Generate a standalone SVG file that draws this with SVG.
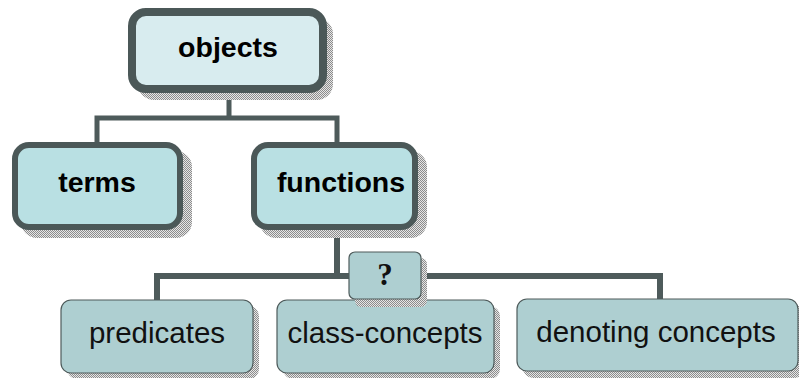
<svg xmlns="http://www.w3.org/2000/svg" width="799" height="378" viewBox="0 0 799 378">
  <defs>
    <pattern id="dots" width="2" height="2" patternUnits="userSpaceOnUse">
      <rect width="2" height="2" fill="#e6e6e6"/>
      <rect width="1" height="1" fill="#8c8c8c"/>
      <rect x="1" y="1" width="1" height="1" fill="#8c8c8c"/>
    </pattern>
    <style>
      .shadow { fill: url(#dots); }
      .link { fill: none; stroke: #4e5b5b; stroke-linejoin: miter; }
      .top { fill: #d8ecef; stroke: #4b5858; stroke-width: 8; }
      .mid { fill: #b9e0e3; stroke: #4b5858; stroke-width: 6; }
      .low { fill: #aecfd1; stroke: #4e5b5b; stroke-width: 1.2; }
      .bold { font-family: "Liberation Sans", Arial, sans-serif; font-weight: bold; font-size: 28.5px; fill: #000; text-anchor: middle; }
      .plain { font-family: "Liberation Sans", Arial, sans-serif; font-size: 29.5px; fill: #111; text-anchor: middle; }
      .q { font-family: "Liberation Serif", "Times New Roman", serif; font-weight: bold; font-size: 31px; fill: #111; text-anchor: middle; }
    </style>
  </defs>

  <!-- connectors -->
  <g id="connectors">
    <path class="link" stroke-width="5" d="M229 92 V118 M97 143 V118 H337 V143"/>
    <path class="link" stroke-width="6" d="M337 229 V276 M157 300 V276 H660 V300"/>
  </g>

  <g id="objects">
    <rect class="shadow" x="138" y="18" width="195" height="82" rx="16"/>
    <rect class="top" x="132" y="12" width="191" height="77" rx="14"/>
    <text class="bold" x="228" y="57">objects</text>
  </g>

  <g id="terms">
    <rect class="shadow" x="21" y="151" width="171" height="87" rx="16"/>
    <rect class="mid" x="15" y="145" width="165" height="82" rx="14"/>
    <text class="bold" x="97" y="192">terms</text>
  </g>

  <g id="functions">
    <rect class="shadow" x="260" y="151" width="167" height="87" rx="16"/>
    <rect class="mid" x="254" y="145" width="161" height="82" rx="14"/>
    <text class="bold" x="341" y="192">functions</text>
  </g>

  <g id="predicates">
    <rect class="shadow" x="67" y="306" width="192" height="73" rx="10"/>
    <rect class="low" x="61" y="300" width="192" height="73" rx="10"/>
    <text class="plain" x="157" y="343">predicates</text>
  </g>

  <g id="class-concepts">
    <rect class="shadow" x="283" y="306" width="217" height="73" rx="10"/>
    <rect class="low" x="277" y="300" width="217" height="73" rx="10"/>
    <text class="plain" x="385" y="343">class-concepts</text>
  </g>

  <g id="denoting-concepts">
    <rect class="shadow" x="523" y="305" width="281" height="73" rx="10"/>
    <rect class="low" x="517" y="299" width="281" height="72" rx="10"/>
    <text class="plain" x="656" y="342">denoting concepts</text>
  </g>

  <g id="question">
    <rect class="shadow" x="355" y="258" width="72" height="49" rx="6"/>
    <rect class="low" x="349" y="252" width="72" height="47" rx="6"/>
    <text class="q" x="385" y="285">?</text>
  </g>
</svg>
